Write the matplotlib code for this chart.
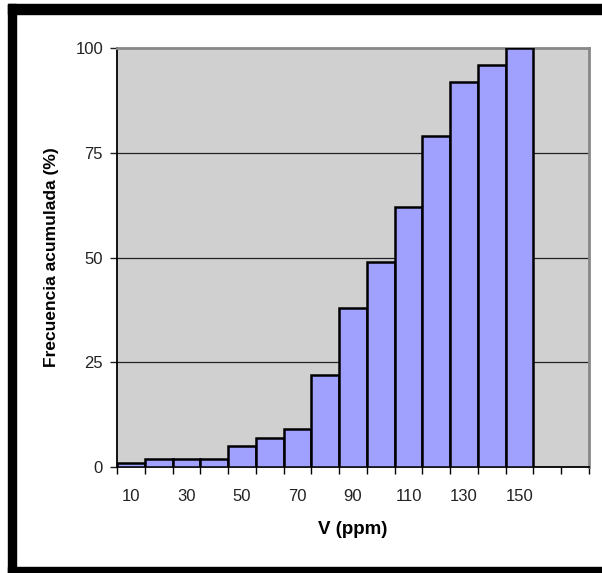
import numpy as np
import matplotlib.pyplot as plt
from matplotlib.patches import Rectangle

plt.rcParams['font.family'] = ['Liberation Sans', 'DejaVu Sans']

# Cumulative frequency (%) per V class (ppm)
V_CLASSES = [10, 20, 30, 40, 50, 60, 70, 80, 90, 100, 110, 120, 130, 140, 150]
CUM_FREQ = [1, 2, 2, 2, 5, 7, 9, 22, 38, 49, 62, 79, 92, 96, 100]
N_SLOTS = 17  # axis continues two empty classes past 150
Y_TICKS = [0, 25, 50, 75, 100]

fig = plt.figure(figsize=(6.02, 5.73), dpi=100)
W, H = 602, 573

# black frame around the chart (partly cropped on the right)
for x0, y0, w, h in [(8, 4, 594, 10), (8, 4, 8, 569), (8, 567, 594, 6)]:
    fig.patches.append(Rectangle((x0 / W, 1 - (y0 + h) / H), w / W, h / H,
                                 transform=fig.transFigure, color='black', zorder=0))

ax = fig.add_axes([117 / W, 1 - 467 / H, (589 - 117) / W, (467 - 48) / H])
ax.set_facecolor('#d0d0d0')

pos = np.arange(len(V_CLASSES))
ax.bar(pos, CUM_FREQ, width=1.0, color='#a0a0ff', edgecolor='black', linewidth=1.8, zorder=3)

for y in Y_TICKS[1:-1]:
    ax.axhline(y, color='#222222', linewidth=0.9, zorder=1)

ax.set_xlim(-0.5, N_SLOTS - 0.5)
ax.set_ylim(0, 100)
ax.set_yticks(Y_TICKS)
ax.tick_params(axis='y', length=5, width=1, labelsize=12, pad=5, colors='#222222')

ax.set_xticks(pos[::2])
ax.set_xticklabels([str(v) for v in V_CLASSES[::2]])
ax.set_xticks(np.arange(N_SLOTS + 1) - 0.5, minor=True)
ax.tick_params(axis='x', which='major', length=0, labelsize=12, pad=16, colors='#222222')
ax.tick_params(axis='x', which='minor', length=5, width=1)

for side in ['left', 'bottom']:
    ax.spines[side].set_color('black')
    ax.spines[side].set_linewidth(1.3)
for side in ['top', 'right']:
    ax.spines[side].set_color('#888888')
    ax.spines[side].set_linewidth(2)

ax.set_xlabel('V (ppm)', fontsize=13.5, fontweight='bold', labelpad=12)
ax.set_ylabel('Frecuencia acumulada (%)', fontsize=12.5, fontweight='bold', labelpad=12)

plt.savefig('out.png', dpi=100)
